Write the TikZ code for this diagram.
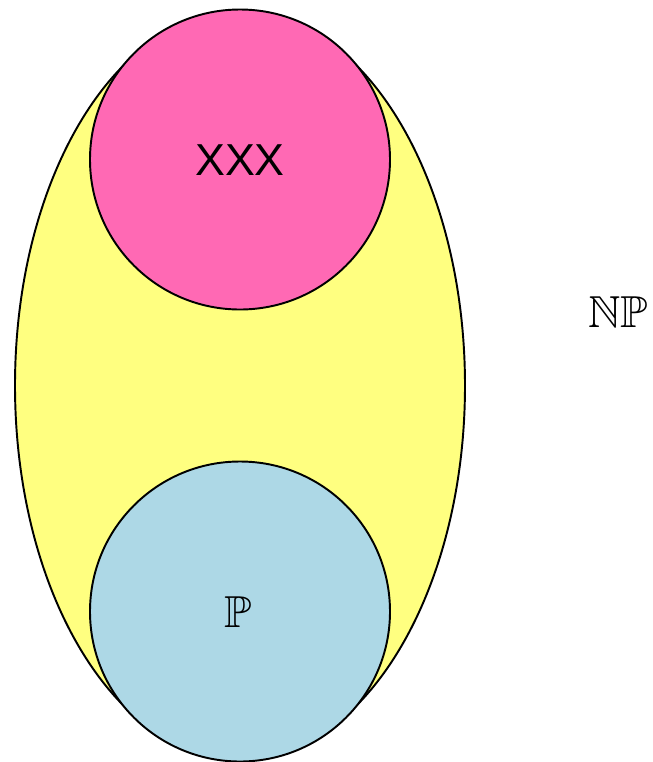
\documentclass[tikz,border=0pt]{standalone}
\usepackage{amssymb}
\usepackage{fontspec}
\newfontfamily\lsans{Liberation Sans}
\definecolor{setyellow}{HTML}{FFFF80}
\definecolor{setpink}{HTML}{FF69B4}
\definecolor{setblue}{HTML}{ADD8E6}
\tikzset{
  setline/.style={draw=black, line width=1.1pt},
  lbl/.style={inner sep=0pt, font=\fontsize{25.5}{30}\selectfont}
}
\begin{document}
\begin{tikzpicture}[x=0.02cm, y=-0.02cm]
\useasboundingbox (0,0) rectangle (653,762);
\path[setline, fill=setyellow] (240,385.5) ellipse [x radius=225, y radius=374];
\node[setline, fill=setpink, circle, minimum size=300*0.02cm, inner sep=0pt] (xxx) at (240,159.5) {};
\node[setline, fill=setblue, circle, minimum size=300*0.02cm, inner sep=0pt] (p) at (240,611.5) {};
\node[lbl, font=\lsans\fontsize{25.5}{30}\selectfont] (xxxlbl) at (240,160) {XXX};
\node[lbl] (plbl) at (238,612) {$\mathbb{P}$};
\node[lbl] (nplbl) at (618,312) {$\mathbb{NP}$};
\end{tikzpicture}
\end{document}
